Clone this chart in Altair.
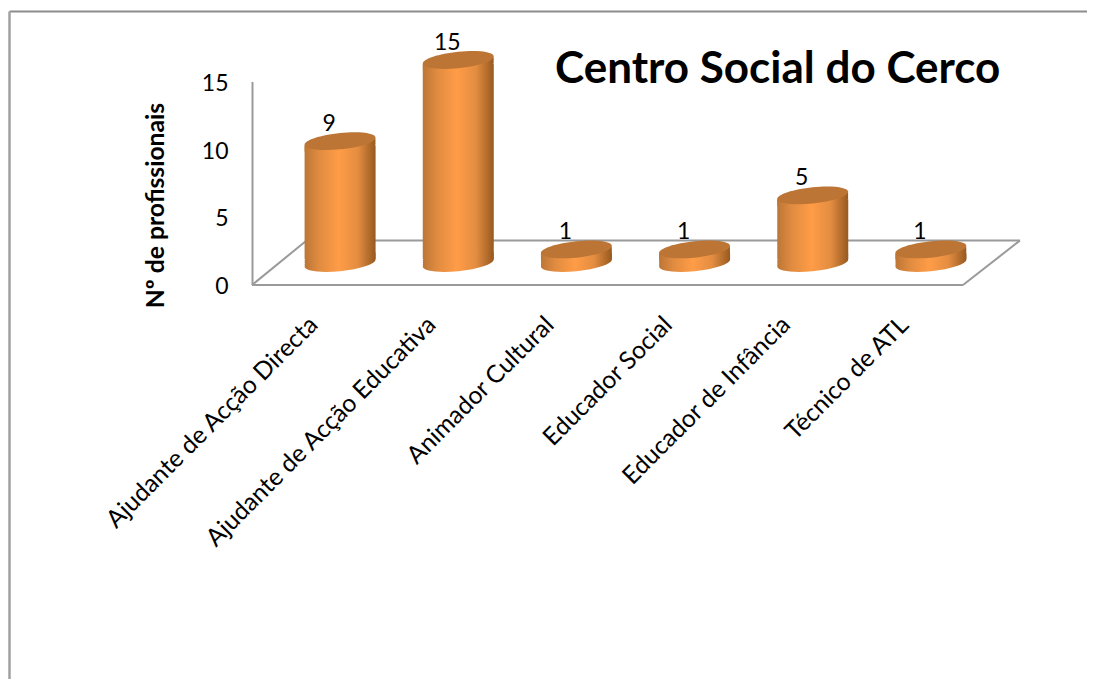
import altair as alt
import pandas as pd

categories = ["Ajudante de Acção Directa", "Ajudante de Acção Educativa", "Animador Cultural",
              "Educador Social", "Educador de Infância", "Técnico de ATL"]
values = [9, 15, 1, 1, 5, 1]
y_ticks = [0, 5, 10, 15]
title_text = "Centro Social do Cerco"
y_title = "Nº de profissionais"

W, H = 1079, 671
FONT = "Lato"
LINE = "#9a9a9a"
df = pd.DataFrame({"cat": categories, "v": values, "zero": [0] * 6})

x_scale = alt.Scale(type="band", domain=categories, range=[273, 982], paddingInner=0, paddingOuter=0)
axis_y = alt.Scale(domain=[0, 15], range=[277, 74], nice=False, zero=False)
cyl_y = alt.Scale(domain=[0, 15], range=[255, 52], nice=False, zero=False)
x_axis = alt.Axis(
    orient="bottom", offset=-(H - 282), domain=False, ticks=False, labelAngle=-45,
    labelAlign="right", labelBaseline="middle", labelOffset=-26, labelPadding=31,
    labelFont=FONT, labelFontSize=24.6, labelColor="#000000", labelLimit=500, labelOverlap=False)
x_enc = alt.X("cat:N", scale=x_scale, title=None, axis=x_axis)

grad = alt.LinearGradient(
    gradient="linear", x1=0, x2=1, y1=0, y2=0,
    stops=[alt.GradientStop(offset=0, color="#BC7636"),
           alt.GradientStop(offset=0.2, color="#E08B40"),
           alt.GradientStop(offset=0.48, color="#FF9C47"),
           alt.GradientStop(offset=0.75, color="#E38D41"),
           alt.GradientStop(offset=1, color="#97591F")])

# sheared ellipse, unit half-width, for the cylinder caps
s, b, k = 0.1, 0.23, 0.5523
def pt(x, y):
    return f"{x:.4f},{y - s * x:.4f}"
ELLIPSE = ("M" + pt(-1, 0) +
           "C" + pt(-1, -b * k) + " " + pt(-k, -b) + " " + pt(0, -b) +
           "C" + pt(k, -b) + " " + pt(1, -b * k) + " " + pt(1, 0) +
           "C" + pt(1, b * k) + " " + pt(k, b) + " " + pt(0, b) +
           "C" + pt(-k, b) + " " + pt(-1, b * k) + " " + pt(-1, 0) + "Z")
SIZE = 71 ** 2


def seg(x1, y1, x2, y2, color=LINE, width=2):
    return alt.Chart().mark_rule(color=color, strokeWidth=width).encode(
        x=alt.value(x1 - 8), y=alt.value(y1 - 8), x2=alt.value(x2 - 8), y2=alt.value(y2 - 8))


frame = [seg(9.5, 11.5, 1095, 11.5, "#8c8c8c"), seg(9.5, 11.5, 9.5, 687, "#a0a0a0", 2.5)]
floor = [seg(252, 285, 963, 285), seg(252, 285, 306, 241), seg(306, 240.5, 1020, 240.5),
         seg(1020, 240.5, 963, 285), seg(252.5, 82, 252.5, 285)]

axes = alt.Chart(df).mark_point(opacity=0).encode(
    x=x_enc,
    y=alt.Y("v:Q", scale=axis_y, title=y_title, axis=alt.Axis(
        values=y_ticks, offset=-244, domain=False, ticks=False, grid=False, labelPadding=24, labelOffset=1.5,
        labelFont=FONT, labelFontSize=23, labelColor="#000000",
        titleFont=FONT, titleFontSize=24.7, titleFontWeight="bold", titleColor="#000000",
        titleX=-96, titleY=197, titleAngle=270, titleAlign="center", titleBaseline="middle")),
)


def cap(field, fill, offset):
    return alt.Chart(df).mark_point(filled=True, shape=ELLIPSE, size=SIZE, fill=fill, opacity=1,
                                    strokeWidth=0, yOffset=offset).encode(
        x=x_enc, y=alt.Y(field, scale=cyl_y, axis=None))


bases = [cap("zero:Q", grad, o) for o in (0, -2, -4, -6)]
body = alt.Chart(df).mark_bar(size=71, fill=grad, opacity=1, yOffset=4, y2Offset=-4).encode(
    x=x_enc, y=alt.Y("v:Q", scale=cyl_y, axis=None), y2="zero:Q")
shoulders = [cap("v:Q", grad, o) for o in (2, 4, 6)]
top = cap("v:Q", "#BC7535", 0)
labels = alt.Chart(df).mark_text(font=FONT, fontSize=23, color="#000000", dx=-11, dy=-17, baseline="middle").encode(
    x=x_enc, y=alt.Y("v:Q", scale=cyl_y, axis=None), text="v:Q")

chart = alt.layer(*frame, *floor, axes, *bases, body, *shoulders, top, labels).resolve_scale(y="independent").properties(
    width=W, height=H, padding=0, autosize=alt.AutoSizeParams(type="none"),
    title=alt.TitleParams(title_text, anchor="start", frame="group", dx=547, dy=106, offset=0, baseline="middle",
                          font=FONT, fontSize=44, fontWeight="bold", color="#000000"),
).configure_view(stroke=None)

chart.save("out.html", embed_options={"renderer": "svg", "actions": False})
